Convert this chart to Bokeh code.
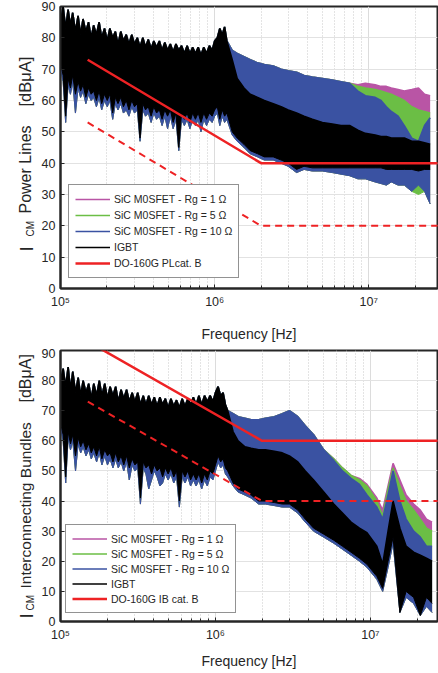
import math
from bokeh.plotting import figure
from bokeh.models import Range1d, FixedTicker
from bokeh.layouts import column, row
from bokeh.core.properties import value
from bokeh.embed import file_html
from bokeh.resources import INLINE

# ---------------- data ----------------
FREQ_LOW_HZ = [1.00e5, 1.04e5, 1.08e5, 1.12e5, 1.16e5, 1.20e5, 1.25e5, 1.30e5, 1.35e5, 1.40e5,
               1.46e5, 1.52e5, 1.58e5, 1.64e5, 1.71e5, 1.78e5, 1.85e5, 1.93e5, 2.01e5, 2.09e5,
               2.18e5, 2.27e5, 2.36e5, 2.46e5, 2.56e5, 2.67e5, 2.78e5, 2.90e5, 3.02e5, 3.15e5,
               3.28e5, 3.42e5, 3.56e5, 3.71e5, 3.87e5, 4.03e5, 4.20e5, 4.38e5, 4.56e5, 4.75e5,
               4.95e5, 5.16e5, 5.38e5, 5.61e5, 5.85e5, 6.10e5, 6.36e5, 6.63e5, 6.91e5, 7.20e5,
               7.50e5, 7.82e5, 8.15e5, 8.50e5, 8.86e5, 9.24e5, 9.63e5, 1.00e6, 1.04e6, 1.08e6,
               1.12e6, 1.16e6, 1.20e6]
FREQ_HIGH_HZ = [1.3e6, 1.4e6, 1.55e6, 1.7e6, 1.9e6, 2.1e6, 2.4e6, 2.7e6, 3.0e6,
                3.4e6, 3.8e6, 4.3e6, 5.0e6, 5.8e6, 6.6e6, 7.5e6, 8.5e6, 9.5e6, 1.1e7,
                1.2e7, 1.3e7, 1.4e7, 1.55e7, 1.7e7, 1.9e7, 2.1e7, 2.3e7, 2.5e7]
FREQ_HZ = FREQ_LOW_HZ + FREQ_HIGH_HZ

# Power lines: upper / lower envelope of each spectrum [dBuA]
PL_IGBT_HI = [85, 90, 83, 89, 84, 88, 82, 87, 81, 86,
              82, 85, 80, 84, 81, 85, 80, 83, 79, 83,
              80, 82, 78, 82, 79, 81, 78, 81, 78, 80,
              77, 80, 77, 79.5, 76.5, 79, 77, 79, 76, 78.5,
              76, 78, 75.5, 78, 76, 77.5, 75, 77.5, 75, 77,
              75, 77, 74.5, 77, 75, 77.5, 76, 79, 80, 83,
              81, 83.5, 79,
              73, 67, 64, 62, 61, 60, 59, 58, 57,
              56, 55, 54, 53, 52.5, 52, 52, 50.5, 49.5, 49,
              48.5, 48.5, 48, 48, 48, 47, 47, 46.5, 46]
PL_IGBT_LO = [72, 68, 55, 67, 64, 68, 62, 66, 63, 65,
              61, 64, 62, 63, 60, 63, 59, 62, 60, 62,
              56, 61, 59, 61, 58, 60, 57, 60, 58, 59,
              48, 59, 57, 58, 55, 58, 56, 57, 54, 57,
              55, 57, 53, 56, 45, 56, 54, 56, 53, 56,
              54, 56, 53, 56, 54, 56, 55, 57, 58, 54,
              57, 55, 56,
              50, 48, 46, 44, 43, 42, 42, 41, 40,
              38, 39, 38.5, 38.5, 38.5, 38.5, 38.5, 38.5, 38.5, 38.5,
              38.5, 38, 38, 38, 38, 38, 37.5, 38, 38]
PL_R10_HI = PL_IGBT_HI[:63] + [76, 75, 74, 73, 72, 71.5, 71, 70, 69.5,
                               69, 68, 67.5, 67, 66.5, 66, 65.5, 63, 61.5, 61,
                               60, 58, 56.5, 55, 52, 48, 47, 52, 54.5]
PL_R10_LO = [70, 66, 53, 65, 62, 66, 56, 64, 61, 63,
             59, 62, 60, 61, 58, 61, 57, 60, 58, 60,
             54, 59, 57, 59, 56, 57, 55, 58, 56, 57,
             47, 57, 55, 56, 53, 56, 54, 55, 52, 55,
             51, 55, 51, 54, 44, 54, 52, 54, 51, 54,
             52, 54, 50, 54, 52, 54, 53, 55, 56, 52,
             55, 53, 54,
             49, 47, 45, 43, 42, 41, 41, 40, 39,
             37, 38, 37.5, 37.5, 37, 36.5, 36, 35, 35, 34,
             33.5, 33, 34, 33, 33, 31, 33, 31, 27]
PL_R5_HI = PL_R10_HI[:76] + [66.5, 66, 65.5, 64.5, 64, 63.5,
                             63, 62.5, 62, 61, 60, 58, 57, 56.5, 56]
PL_R5_LO = PL_R10_LO[:88] + [30, 31, 27]
PL_R1_HI = PL_R5_HI[:79] + [65, 65.5, 65, 64.5, 64.5, 64, 63.5, 63, 63.5, 64, 62, 61.5]
PL_R1_LO = PL_R10_LO

# Interconnecting bundles
IB_IGBT_HI = [80, 84, 78, 84.5, 77, 83, 76, 81, 75, 80,
              76, 79, 74, 79, 75, 80, 75, 79, 74, 78,
              75, 78, 73, 77, 74, 77, 73, 76, 73, 76,
              72, 75, 72, 75, 72, 74.5, 71.5, 74.5, 72, 74,
              71, 74, 71.5, 73.5, 71, 74, 71.5, 74, 72, 74.5,
              72, 75, 72, 75, 73, 75, 73, 76, 78, 75,
              76, 72, 70,
              63, 60, 58, 57.5, 57, 57, 56.5, 56, 55,
              53, 50, 47, 43, 39, 36, 33, 31, 29.5, 25,
              19, 30, 40, 31, 25, 23, 22, 21, 20]
IB_IGBT_LO = [66, 62, 48, 63, 59, 62, 55, 61, 58, 60,
              57, 59, 56, 58, 55, 58, 54, 57, 55, 56,
              53, 56, 53, 55, 52, 55, 51, 54, 52, 53,
              41, 53, 51, 52, 49, 52, 50, 51, 48, 51,
              49, 51, 48, 50, 40, 50, 48, 50, 47, 49,
              47, 49, 46, 49, 47, 50, 49, 52, 55, 53,
              54, 51, 50,
              46, 44, 43, 42, 40, 40, 39.5, 39, 39,
              37, 34, 31, 29, 27, 25, 23, 21, 19, 15,
              11, 20, 28, 3, 10, 8, 2, 8, 6]
IB_R10_HI = IB_IGBT_HI[:63] + [69, 68, 67.5, 67, 67, 67.5, 68, 69, 70,
                               68, 65, 62, 57, 53.5, 50, 47.5, 45.5, 42, 38,
                               34, 42, 50, 40, 34, 30, 28, 25, 25]
IB_R10_LO = [64, 60, 46, 61, 57, 60, 50, 59, 56, 58,
             55, 57, 54, 56, 53, 56, 52, 55, 52, 54,
             51, 54, 51, 53, 50, 53, 47, 52, 50, 51,
             39, 51, 49, 44, 47, 50, 48, 45, 46, 49,
             47, 49, 46, 48, 38, 48, 46, 48, 45, 47,
             45, 47, 44, 47, 45, 48, 47, 50, 53, 51,
             52, 49, 48,
             45, 43, 42, 41, 39, 39, 38.5, 38, 38,
             36, 33, 30, 28, 26, 24, 22, 20, 18, 14,
             10, 18, 26, 3, 8, 6, 2, 5, 3]
IB_R5_HI = IB_R10_HI[:76] + [54, 51, 48.5, 47, 45, 40, 35, 44, 51, 45, 40, 37, 34, 31, 30]
IB_R5_LO = IB_R10_LO
IB_R1_HI = IB_R5_HI[:79] + [47.5, 45.5, 41, 37, 45, 52.5, 47, 42, 39, 37, 34, 33]
IB_R1_LO = IB_R10_LO

# DO-160G limits
LIMIT_F = [1.5e5, 2e6, 3e7]
PL_LIMIT = [73, 40, 40]
PL_LIMIT_DASH = [53, 20, 20]
IB_LIMIT = [93, 60, 60]
IB_LIMIT_DASH = [73, 40, 40]

SERIES_NAMES = ["SiC M0SFET - Rg = 1 Ω", "SiC M0SFET - Rg = 5 Ω",
                "SiC M0SFET - Rg = 10 Ω", "IGBT"]
SERIES_COLORS = ["#B955A5", "#6BBE45", "#3A52A2", "#000000"]
RED = "#EE2224"

X_TICKS = [100000, 1000000, 10000000]
X_MINOR = [2e5, 3e5, 4e5, 5e5, 6e5, 7e5, 8e5, 9e5,
           2e6, 3e6, 4e6, 5e6, 6e6, 7e6, 8e6, 9e6, 2e7, 3e7]
X_LABELS = {100000: "10⁵", 1000000: "10⁶", 10000000: "10⁷"}
Y_TICKS = [0, 10, 20, 30, 40, 50, 60, 70, 80, 90]

FONT = "Liberation Sans"
AX = "#262626"
LAB_W = 38
MAIN_W = 438 - LAB_W


def make_panel(height, border_left, border_top, border_bottom, x_max, lab_standoff,
               series, lim, lim_dash, lim_name, legend_loc, row_h):
    p = figure(width=MAIN_W, height=height, x_axis_type="log",
               x_range=Range1d(1e5, x_max), y_range=Range1d(0, 90),
               output_backend="svg", toolbar_location=None,
               min_border_left=border_left, min_border_right=1,
               min_border_top=border_top, min_border_bottom=border_bottom)
    p.outline_line_color = AX
    p.outline_line_width = 2
    p.background_fill_color = "white"

    p.xaxis.ticker = FixedTicker(ticks=X_TICKS, minor_ticks=X_MINOR)
    p.xaxis.major_label_overrides = X_LABELS
    p.yaxis.ticker = FixedTicker(ticks=Y_TICKS, minor_ticks=[])
    for ax in (p.xaxis, p.yaxis):
        ax.axis_line_color = AX
        ax.axis_line_width = 2
        ax.major_tick_in = 4
        ax.major_tick_out = 0
        ax.minor_tick_in = 3
        ax.minor_tick_out = 0
        ax.major_tick_line_color = AX
        ax.minor_tick_line_color = AX
        ax.major_label_text_font = FONT
        ax.major_label_text_font_size = "12.5px"
        ax.major_label_text_color = AX
        ax.major_label_standoff = 5
    p.xaxis.major_label_standoff = 6
    p.xaxis.axis_label = "Frequency [Hz]"
    p.xaxis.axis_label_text_font = FONT
    p.xaxis.axis_label_text_font_size = "14px"
    p.xaxis.axis_label_text_font_style = "normal"
    p.xaxis.axis_label_text_color = AX
    p.xaxis.axis_label_standoff = lab_standoff

    p.xgrid.ticker = FixedTicker(ticks=X_TICKS, minor_ticks=X_MINOR)
    p.xgrid.grid_line_color = "#dcdcdc"
    p.xgrid.minor_grid_line_color = "#c8c8c8"
    p.xgrid.minor_grid_line_dash = "1 2"
    p.ygrid.ticker = FixedTicker(ticks=Y_TICKS, minor_ticks=[])
    p.ygrid.grid_line_color = "#e2e2e2"

    for (hi, lo), name, color in zip(series, SERIES_NAMES, SERIES_COLORS):
        p.varea(x=FREQ_HZ, y1=lo, y2=hi, fill_color=color, fill_alpha=1)
        p.line(x=FREQ_HZ, y=lo, line_color=color, line_width=1)
        p.line(x=FREQ_HZ, y=hi, line_color=color, line_width=1.6, legend_label=name)

    p.line(x=LIMIT_F, y=lim_dash, line_color=RED, line_width=2, line_dash="7 5")
    p.line(x=LIMIT_F, y=lim, line_color=RED, line_width=2.5, legend_label=lim_name)

    lg = p.legend[0]
    lg.location = legend_loc
    lg.label_text_font = FONT
    lg.label_text_font_size = "10.5px"
    lg.label_text_color = AX
    lg.label_height = row_h
    lg.glyph_height = row_h
    lg.glyph_width = 35
    lg.label_standoff = 4
    lg.spacing = 0
    lg.padding = 6
    lg.margin = 0
    lg.border_line_color = AX
    lg.border_line_width = 1
    lg.background_fill_alpha = 1
    return p


def label_panel(height, border_top, border_bottom, frame_top, frame_bottom, pieces):
    # frame matches the neighbouring plot frame; y values are page pixels
    f = figure(width=LAB_W, height=height, x_range=Range1d(0, LAB_W),
               y_range=Range1d(frame_bottom, frame_top),
               output_backend="svg", toolbar_location=None,
               min_border_left=0, min_border_right=0,
               min_border_top=border_top, min_border_bottom=border_bottom,
               x_axis_location=None, y_axis_location=None)
    f.outline_line_color = None
    f.grid.visible = False
    for text, x, y, size in pieces:
        f.text(x=[x], y=[y], text=[text], angle=math.pi / 2,
               text_font=value(FONT), text_font_size=size, text_color=AX,
               text_align="left", text_baseline="middle")
    return f


TOP_H = 348
BOT_H = 325

p1 = make_panel(TOP_H, 20, 6, 60, 2.79e7, 14,
                [(PL_R1_HI, PL_R1_LO), (PL_R5_HI, PL_R5_LO), (PL_R10_HI, PL_R10_LO),
                 (PL_IGBT_HI, PL_IGBT_LO)],
                PL_LIMIT, PL_LIMIT_DASH, "DO-160G PLcat. B", (8, 10), 16)
p2 = make_panel(BOT_H, 22, 2, 52, 2.71e7, 8,
                [(IB_R1_HI, IB_R1_LO), (IB_R5_HI, IB_R5_LO), (IB_R10_HI, IB_R10_LO),
                 (IB_IGBT_HI, IB_IGBT_LO)],
                IB_LIMIT, IB_LIMIT_DASH, "DO-160G IB cat. B", (5, 8), 15)

l1 = label_panel(TOP_H, 6, 60, 6, 288,
                 [("I", 26, 251, "19px"), ("CM", 30, 236, "10px"),
                  ("Power Lines", 24.5, 213, "16px"), ("[dBμA]", 24.5, 106, "16.5px")])
l2 = label_panel(BOT_H, 2, 52, 350, 621,
                 [("I", 26, 618, "19px"), ("CM", 30, 610, "10px"),
                  ("Interconnecting Bundles", 24.5, 588, "15.5px"),
                  ("[dBμA]", 24.5, 402, "16px")])

layout = column(row(l1, p1, spacing=0), row(l2, p2, spacing=0), spacing=0)
open("out.html", "w").write(file_html(layout, INLINE))
